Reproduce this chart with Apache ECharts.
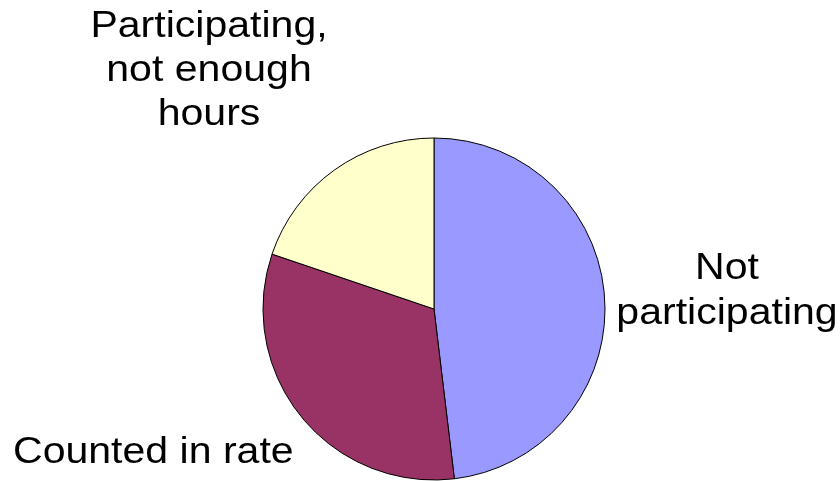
<!DOCTYPE html>
<html>
<head>
<meta charset="utf-8">
<script src="https://cdn.jsdelivr.net/npm/echarts@6/dist/echarts.min.js"></script>
<style>
html, body { margin: 0; padding: 0; background: #ffffff; }
#chart { width: 840px; height: 481px; }
</style>
</head>
<body>
<div id="chart"></div>
<script>
// Data
const categories = ['Not\nparticipating', 'Counted in rate', 'Participating,\nnot enough\nhours'];
const values = [48.1, 32.1, 19.8];
const colors = ['#9999FF', '#993366', '#FFFFCC'];

// Label placement (anchor x, block-centre y, alignment) – layout only
const labelPos = [
  { x: 727, y: 291.5, align: 'center' },
  { x: 13, y: 453, align: 'left' },
  { x: 209, y: 71, align: 'center' }
];

const chart = echarts.init(document.getElementById('chart'), null, { renderer: 'canvas' });

const option = {
  backgroundColor: '#ffffff',
  animation: false,
  series: [{
    type: 'pie',
    center: [434, 309],
    radius: 171,
    startAngle: 90,
    clockwise: true,
    label: { show: false },
    labelLine: { show: false },
    itemStyle: { borderColor: '#000000', borderWidth: 1 },
    emphasis: { disabled: true },
    data: categories.map((c, i) => ({
      name: c,
      value: values[i],
      itemStyle: { color: colors[i] }
    }))
  }],
  graphic: categories.map((c, i) => ({
    type: 'text',
    x: labelPos[i].x,
    y: labelPos[i].y,
    scaleX: 1.14,
    scaleY: 1,
    style: {
      text: c,
      x: 0,
      y: 0,
      fill: '#000000',
      font: '36px "Liberation Sans", Arial, sans-serif',
      lineHeight: 44.3,
      align: labelPos[i].align,
      verticalAlign: 'middle'
    }
  }))
};

chart.setOption(option);
</script>
</body>
</html>
